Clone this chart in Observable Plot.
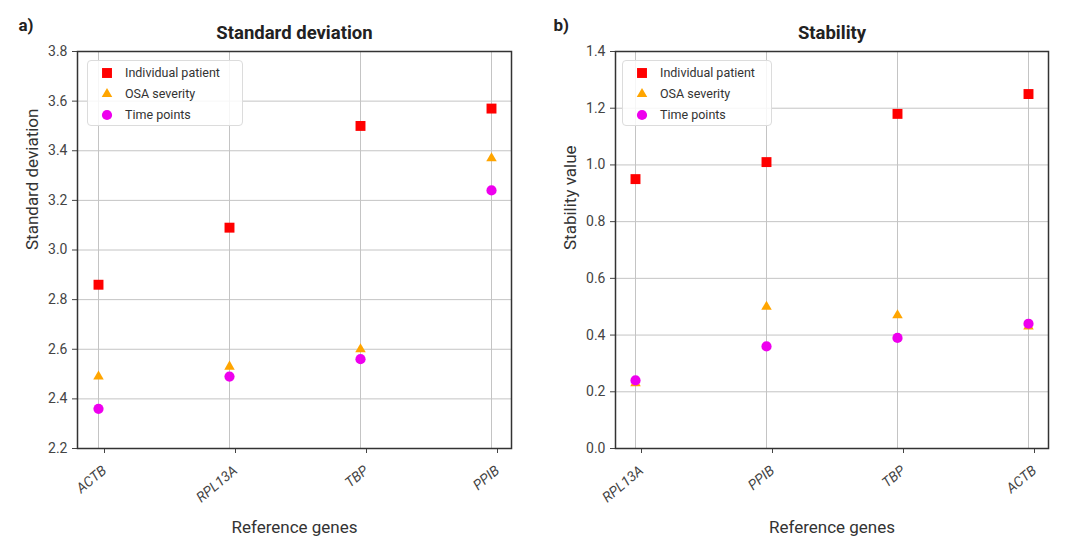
<!DOCTYPE html>
<html>
<head>
<meta charset="utf-8">
<script src="https://cdn.jsdelivr.net/npm/d3@7"></script>
<script src="https://cdn.jsdelivr.net/npm/@observablehq/plot@0.6"></script>
<style>
  html, body { margin: 0; padding: 0; background: #fff; }
  #figure { position: relative; width: 1091px; height: 554px; display: flex; font-family: Roboto, sans-serif; }
  .panel { position: relative; }
  .legend {
    position: absolute; box-sizing: border-box;
    background: rgba(255,255,255,0.85);
    border: 1px solid #dcdcdc; border-radius: 4px;
    font-size: 12.5px; color: #333;
    padding-top: 1px;
  }
  .legend .row { display: flex; align-items: center; height: 21px; }
  .legend svg { flex: none; }
</style>
</head>
<body>
<div id="figure">
  <div class="panel" id="panelA"></div>
  <div class="panel" id="panelB"></div>
</div>
<script>
// Panel a) – standard deviation per reference gene
const genesA = ["ACTB", "RPL13A", "TBP", "PPIB"];
const sdIndividual = [2.86, 3.09, 3.50, 3.57];
const sdOSA = [2.49, 2.53, 2.60, 3.37];
const sdTime = [2.36, 2.49, 2.56, 3.24];
const sdTicks = [2.2, 2.4, 2.6, 2.8, 3.0, 3.2, 3.4, 3.6, 3.8];

// Panel b) – stability value per reference gene
const genesB = ["RPL13A", "PPIB", "TBP", "ACTB"];
const stIndividual = [0.95, 1.01, 1.18, 1.25];
const stOSA = [0.23, 0.50, 0.47, 0.43];
const stTime = [0.24, 0.36, 0.39, 0.44];
const stTicks = [0.0, 0.2, 0.4, 0.6, 0.8, 1.0, 1.2, 1.4];

const seriesNames = ["Individual patient", "OSA severity", "Time points"];
const seriesColors = ["#ff0000", "#ffa500", "#ee00ee"];
const seriesSymbols = ["square", "triangle", "circle"];
const seriesRadius = [5.6, 3.9, 5.1];

const rows = (genes, values) => genes.map((gene, i) => ({gene, value: values[i]}));

function panel({genes, series, domain, ticks, title, tag, tagOffset, yLabel, width, marginLeft, marginRight}) {
  const gridStyle = {stroke: "#c4c4c4", strokeOpacity: 1, strokeWidth: 1};
  return Plot.plot({
    width, height: 554,
    marginLeft, marginRight, marginTop: 51, marginBottom: 106,
    style: {fontFamily: "Roboto, sans-serif", fontSize: "14px", color: "#444", background: "transparent", overflow: "visible"},
    x: {type: "point", domain: genes, padding: 0.15},
    y: {domain},
    marks: [
      Plot.gridX(genes, gridStyle),
      Plot.gridY(ticks, gridStyle),
      Plot.axisX({tickRotate: -40, fontStyle: "italic", fontSize: 14, tickSize: 5, tickPadding: 15, dx: 6, label: null}),
      Plot.axisY(ticks, {tickFormat: d => d.toFixed(1), fontSize: 14, tickSize: 5, tickPadding: 5, label: null}),
      Plot.frame({stroke: "#333", strokeWidth: 1.5}),
      ...series.map((values, k) => Plot.dot(rows(genes, values), {
        x: "gene", y: "value",
        symbol: seriesSymbols[k], fill: seriesColors[k], r: seriesRadius[k]
      })),
      Plot.text([title], {frameAnchor: "top", dy: -18, lineAnchor: "middle", fontSize: 18.5, fontWeight: "bold", fill: "#222"}),
      Plot.text([tag], {frameAnchor: "top-left", dx: tagOffset, dy: -26, lineAnchor: "middle", textAnchor: "start", fontSize: 17, fontWeight: "bold", fill: "#222"}),
      Plot.text([yLabel], {frameAnchor: "left", dx: -45, rotate: -90, fontSize: 17, fill: "#333"}),
      Plot.text(["Reference genes"], {frameAnchor: "bottom", dy: 79, lineAnchor: "middle", fontSize: 17, fill: "#333"})
    ]
  });
}

function legend(left, top, width) {
  const box = document.createElement("div");
  box.className = "legend";
  Object.assign(box.style, {left: left + "px", top: top + "px", width: width + "px", height: "66px"});
  seriesNames.forEach((name, k) => {
    const row = document.createElement("div");
    row.className = "row";
    const sym = d3.symbol(k === 0 ? d3.symbolSquare : k === 1 ? d3.symbolTriangle : d3.symbolCircle,
      Math.PI * seriesRadius[k] * seriesRadius[k])();
    row.innerHTML = `<svg width="37" height="16" viewBox="-19 -8 37 16"><path d="${sym}" fill="${seriesColors[k]}"/></svg><span>${name}</span>`;
    box.appendChild(row);
  });
  return box;
}

const panelA = document.getElementById("panelA");
panelA.append(panel({
  genes: genesA, series: [sdIndividual, sdOSA, sdTime], domain: [2.2, 3.8], ticks: sdTicks,
  title: "Standard deviation", tag: "a)", tagOffset: -59, yLabel: "Standard deviation",
  width: 545, marginLeft: 77, marginRight: 34
}));
panelA.append(legend(87, 60, 156));

const panelB = document.getElementById("panelB");
panelB.append(panel({
  genes: genesB, series: [stIndividual, stOSA, stTime], domain: [0, 1.4], ticks: stTicks,
  title: "Stability", tag: "b)", tagOffset: -62, yLabel: "Stability value",
  width: 546, marginLeft: 70, marginRight: 43
}));
panelB.append(legend(77, 60, 150));
</script>
</body>
</html>
